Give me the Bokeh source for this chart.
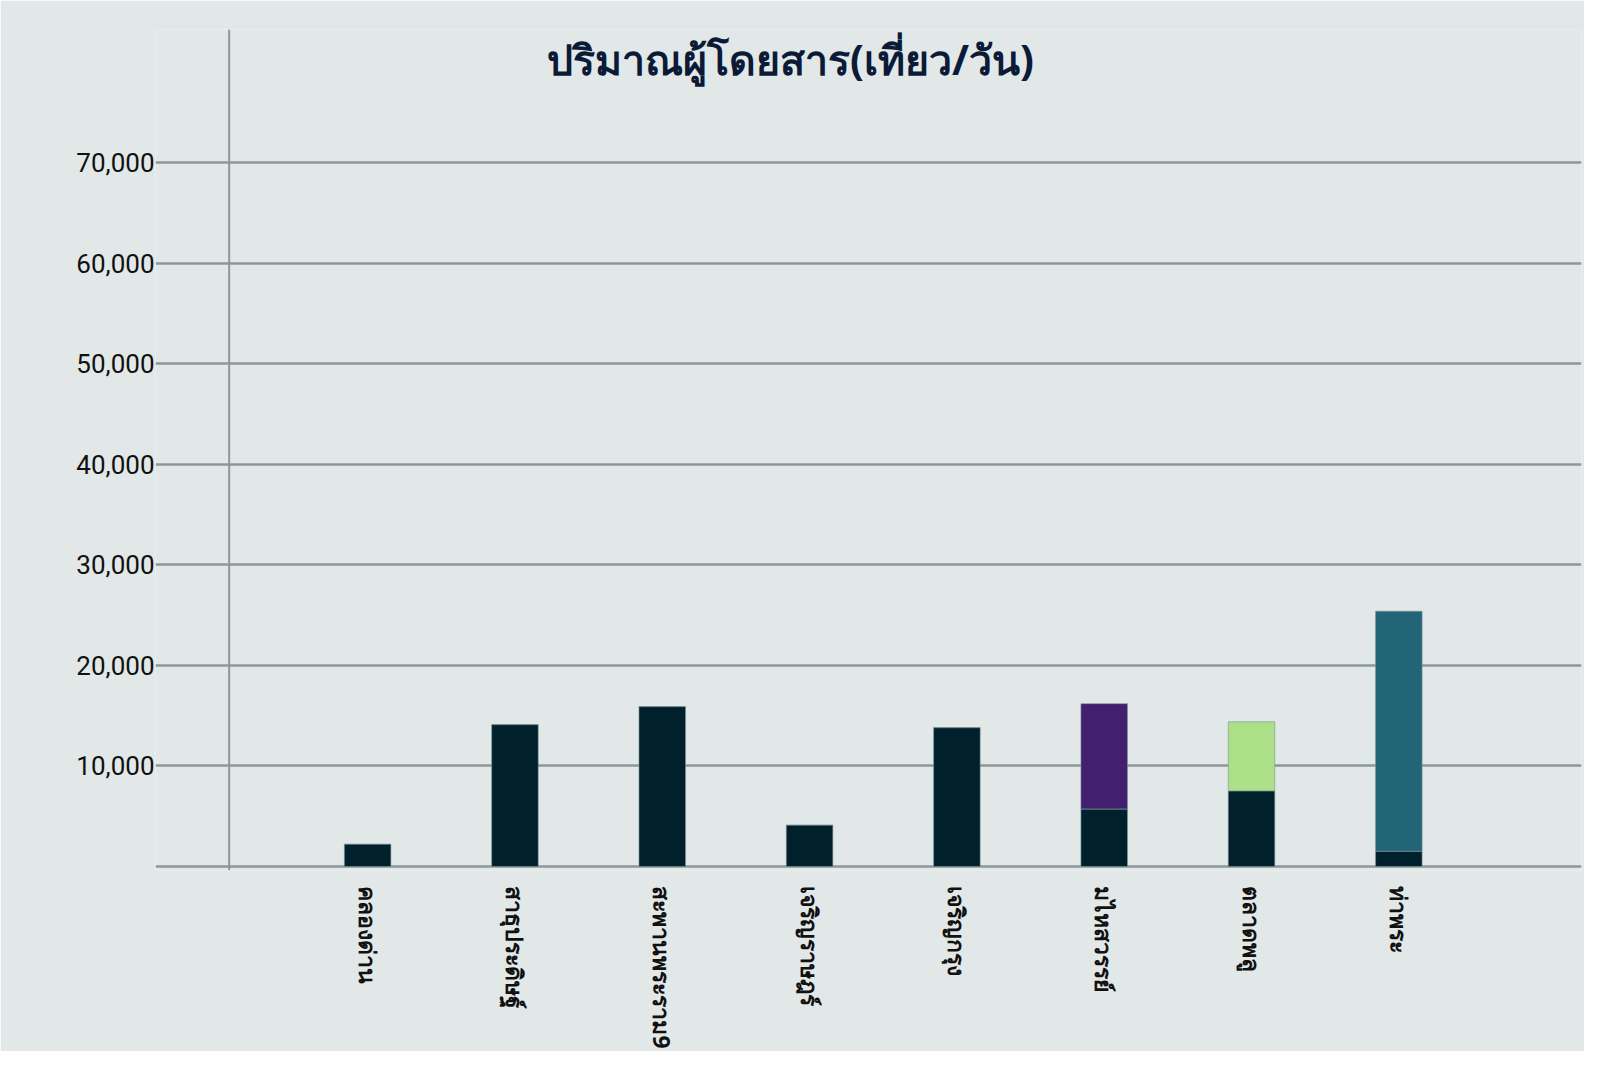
from bokeh.plotting import figure
from bokeh.models import ColumnDataSource, Range1d, FixedTicker, Span, Label
from bokeh.embed import file_html
from bokeh.resources import INLINE

# data
stations = ["คลองด่าน", "สาธุประดิษฐ์", "สะพานพระราม9", "เจริญราษฎร์",
            "เจริญกรุง", "มไหสวรรย์", "ตลาดพลู", "ท่าพระ"]
base_trips = [2200, 14100, 15900, 4100, 13800, 5700, 7500, 1500]
extra_trips = [0, 0, 0, 0, 0, 10500, 6900, 23900]
extra_colors = ["#43206f", "#43206f", "#43206f", "#43206f",
                "#43206f", "#43206f", "#abdf88", "#216576"]
y_ticks = [0, 10000, 20000, 30000, 40000, 50000, 60000, 70000]

xs = list(range(len(stations)))
src = ColumnDataSource(data=dict(
    x=xs,
    base=base_trips,
    total=[b + e for b, e in zip(base_trips, extra_trips)],
    color=extra_colors,
))

BG = "#e2e8e8"
GRID = "#8c9897"

p = figure(width=1584, height=1051, output_backend="svg", toolbar_location=None,
           x_range=Range1d(-1.44, 8.24), y_range=Range1d(-400, 83270),
           min_border_left=155, min_border_right=3,
           min_border_top=29, min_border_bottom=181)
p.background_fill_color = BG
p.border_fill_color = BG
p.outline_line_color = None

# top segments first, then dark base
p.vbar(x="x", bottom="base", top="total", width=0.316, source=src,
       fill_color="color", line_color="#7f9599", line_alpha=0.6)
p.vbar(x="x", bottom=0, top="base", width=0.316, source=src,
       fill_color="#00212b", line_color="#7f9599", line_alpha=0.6)

# grid
p.xgrid.visible = False
p.ygrid.ticker = FixedTicker(ticks=y_ticks)
p.ygrid.grid_line_color = GRID
p.ygrid.grid_line_width = 2.5

p.add_layout(Span(location=-0.94, dimension="height",
                  line_color=GRID, line_width=2))

# y axis
p.yaxis.ticker = FixedTicker(ticks=y_ticks)
p.yaxis.major_label_overrides = {t: ("" if t == 0 else f"{t:,}") for t in y_ticks}
p.yaxis.axis_line_color = None
p.yaxis.major_tick_line_color = None
p.yaxis.minor_tick_line_color = None
p.yaxis.major_label_standoff = -5
p.yaxis.major_label_text_font = "Roboto"
p.yaxis.major_label_text_font_size = "26px"
p.yaxis.major_label_text_color = "#111111"

# x axis
p.xaxis.ticker = FixedTicker(ticks=xs)
p.xaxis.major_label_overrides = {i: s for i, s in zip(xs, stations)}
p.xaxis.major_label_orientation = "vertical"
p.xaxis.axis_line_color = None
p.xaxis.major_tick_line_color = None
p.xaxis.minor_tick_line_color = None
p.xaxis.major_label_standoff = 10
p.xaxis.major_label_text_font = "Noto Sans"
p.xaxis.major_label_text_font_size = "23px"
p.xaxis.major_label_text_font_style = "bold"
p.xaxis.major_label_text_color = "#111111"

p.add_layout(Label(x=2.87, y=80300, text="ปริมาณผู้โดยสาร(เที่ยว/วัน)",
                   text_align="center", text_baseline="middle",
                   text_font="Noto Sans", text_font_size="41px",
                   text_font_style="bold", text_color="#0b1a36"))

open("out.html", "w").write(file_html(p, INLINE))
